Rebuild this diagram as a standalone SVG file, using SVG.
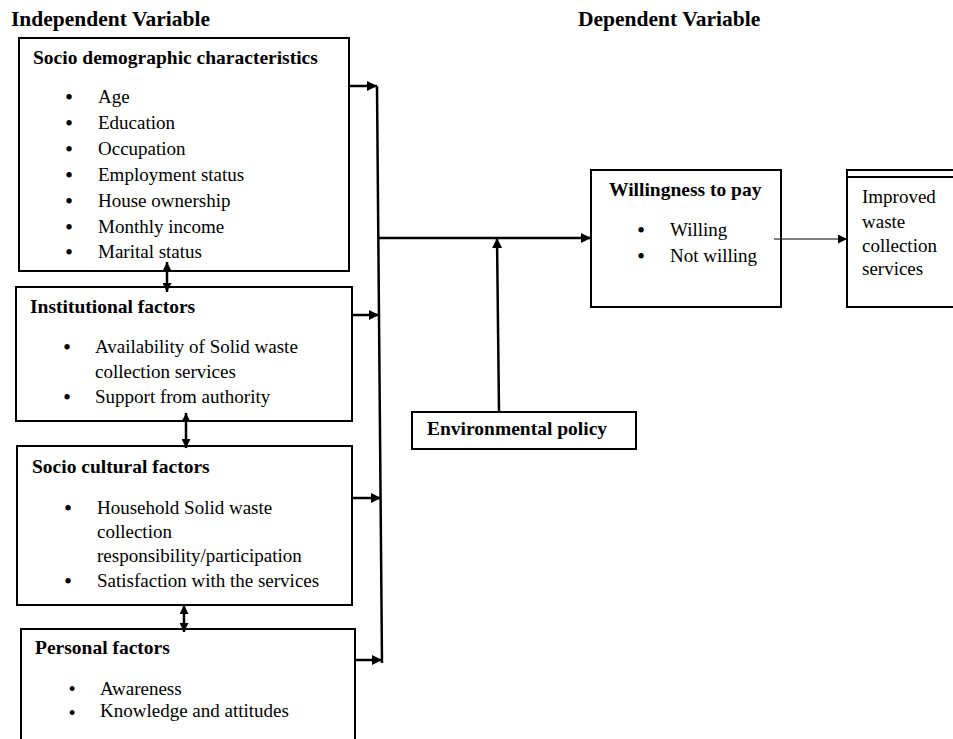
<svg xmlns="http://www.w3.org/2000/svg" width="953" height="739" viewBox="0 0 953 739">
<defs>
<style>
text{font-family:"Liberation Serif","Times New Roman",serif;fill:#000}
.t{font-size:21.5px;font-weight:bold}
.h{font-size:19.5px;font-weight:bold}
.b{font-size:19px}
.d{font-size:23px}
.d2{font-size:20.5px}
.box{fill:#fff;stroke:#000;stroke-width:2}
.c{fill:none;stroke:#000;stroke-width:2.5}
.thin{fill:none;stroke:#000;stroke-width:1}
</style>
<marker id="ah" viewBox="0 0 10 10" refX="10" refY="5" markerWidth="10" markerHeight="10" markerUnits="userSpaceOnUse" orient="auto-start-reverse"><path d="M0,0 L10,5 L0,10 z" fill="#000"/></marker>
<marker id="as" viewBox="0 0 10 10" refX="10" refY="5" markerWidth="9" markerHeight="9" markerUnits="userSpaceOnUse" orient="auto-start-reverse"><path d="M0,0 L10,5 L0,10 z" fill="#000"/></marker>
</defs>
<rect width="953" height="739" fill="#fff"/>
<text class="t" x="11" y="26">Independent Variable</text>
<text class="t" x="578" y="26">Dependent Variable</text>

<g id="socio-demographic">
<rect class="box" x="19" y="38" width="330" height="233"/>
<text class="h" x="33" y="64">Socio demographic characteristics</text>
<g class="b">
<text class="d" x="65" y="105">•</text><text x="98" y="103">Age</text>
<text class="d" x="65" y="131">•</text><text x="98" y="129">Education</text>
<text class="d" x="65" y="157">•</text><text x="98" y="155">Occupation</text>
<text class="d" x="65" y="183">•</text><text x="98" y="181">Employment status</text>
<text class="d" x="65" y="209">•</text><text x="98" y="207">House ownership</text>
<text class="d" x="65" y="235">•</text><text x="98" y="233">Monthly income</text>
<text class="d" x="65" y="260">•</text><text x="98" y="258">Marital status</text>
</g>
</g>

<g id="institutional">
<rect class="box" x="16" y="287" width="336" height="134"/>
<text class="h" x="30" y="313">Institutional factors</text>
<g class="b">
<text class="d" x="63" y="355">•</text><text x="95" y="353">Availability of Solid waste</text>
<text x="95" y="378">collection services</text>
<text class="d" x="63" y="405">•</text><text x="95" y="403">Support from authority</text>
</g>
</g>

<g id="socio-cultural">
<rect class="box" x="17" y="446" width="335" height="159"/>
<text class="h" x="32" y="473">Socio cultural factors</text>
<g class="b">
<text class="d" x="64" y="516">•</text><text x="97" y="514">Household Solid waste</text>
<text x="97" y="538">collection</text>
<text x="97" y="562">responsibility/participation</text>
<text class="d" x="64" y="589">•</text><text x="97" y="587">Satisfaction with the services</text>
</g>
</g>

<g id="personal">
<rect class="box" x="21" y="629" width="334" height="130"/>
<text class="h" x="35" y="654">Personal factors</text>
<g class="b">
<text class="d2" x="68.5" y="696">•</text><text x="100" y="695">Awareness</text>
<text class="d2" x="68.5" y="720">•</text><text x="100" y="717">Knowledge and attitudes</text>
</g>
</g>

<g id="willingness">
<rect class="box" x="591" y="170" width="190" height="137"/>
<text class="h" x="609" y="196">Willingness to pay</text>
<g class="b">
<text class="d" x="637" y="238">•</text><text x="670" y="236">Willing</text>
<text class="d" x="637" y="264">•</text><text x="670" y="262">Not willing</text>
</g>
</g>

<g id="improved">
<rect class="box" x="847" y="170" width="120" height="137"/>
<line class="box" x1="847" y1="177" x2="953" y2="177"/>
<g class="b">
<text x="862" y="203">Improved</text>
<text x="862" y="228">waste</text>
<text x="862" y="252">collection</text>
<text x="862" y="275">services</text>
</g>
</g>

<g id="environmental-policy">
<rect class="box" x="412" y="412" width="224" height="37"/>
<text class="h" x="427" y="435">Environmental policy</text>
</g>

<g id="connectors">
<line class="c" x1="377" y1="86" x2="382" y2="663"/>
<line class="c" x1="349" y1="86" x2="377" y2="86" marker-end="url(#ah)"/>
<line class="c" x1="352" y1="315" x2="379" y2="315" marker-end="url(#ah)"/>
<line class="c" x1="352" y1="498" x2="381" y2="498" marker-end="url(#ah)"/>
<line class="c" x1="355" y1="660" x2="382" y2="660" marker-end="url(#ah)"/>
<line class="c" x1="378" y1="238" x2="591" y2="238" marker-end="url(#ah)"/>
<line class="c" x1="499" y1="412" x2="497" y2="238" marker-end="url(#ah)"/>
<line class="thin" x1="774" y1="239" x2="847" y2="239" marker-end="url(#as)"/>
<line class="c" x1="167" y1="262" x2="167" y2="292" marker-start="url(#as)" marker-end="url(#as)"/>
<line class="c" x1="186" y1="413" x2="186" y2="448" marker-start="url(#as)" marker-end="url(#as)"/>
<line class="c" x1="184" y1="605" x2="184" y2="632" marker-start="url(#as)" marker-end="url(#as)"/>
</g>
</svg>
